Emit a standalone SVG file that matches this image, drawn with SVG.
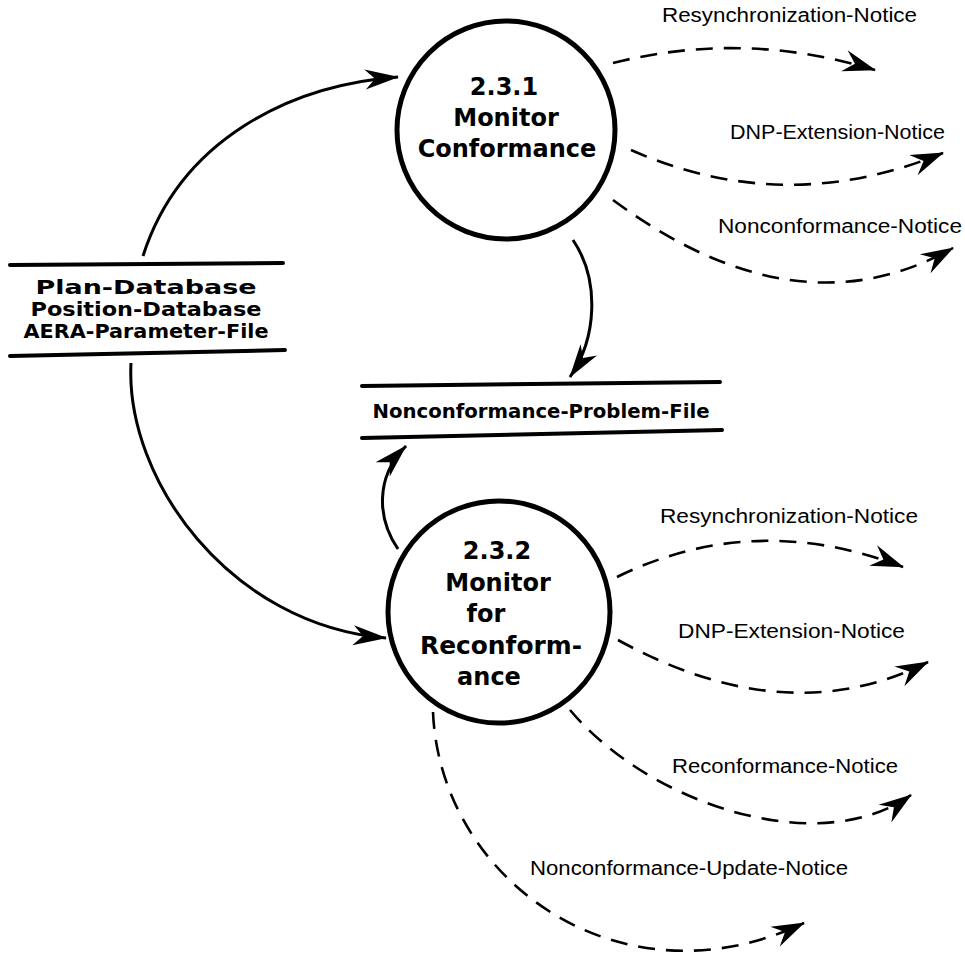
<svg xmlns="http://www.w3.org/2000/svg" width="965" height="964" viewBox="0 0 965 964">
  <style>
    .proc { fill: none; stroke: #000; stroke-width: 5; }
    .store { stroke: #000; stroke-width: 4; stroke-linecap: round; }
    .ptext { font-family: "DejaVu Sans", "Liberation Sans", sans-serif; font-weight: bold; font-size: 24px; fill: #000; text-anchor: middle; }
    .stext { font-family: "DejaVu Sans", "Liberation Sans", sans-serif; font-weight: bold; font-size: 19px; fill: #000; text-anchor: middle; }
    .flow { fill: none; stroke: #000; stroke-width: 3; }
    .dflow { fill: none; stroke: #000; stroke-width: 2.6; stroke-dasharray: 17 11; }
    .label { font-family: "Liberation Sans", Arial, sans-serif; font-size: 20px; fill: #000; }
  </style>
  <defs>
    <marker id="head" viewBox="-36 -12 38 24" refX="0" refY="0" markerWidth="38" markerHeight="24" orient="auto" markerUnits="userSpaceOnUse">
      <path d="M1,0 L-33,-10 L-23,0 L-33,10 Z" fill="#000"/>
    </marker>
    <marker id="dhead" viewBox="-36 -12 38 24" refX="0" refY="0" markerWidth="38" markerHeight="24" orient="auto" markerUnits="userSpaceOnUse">
      <path d="M1,0 L-32,-11 L-21,0 L-32,11 Z" fill="#000"/>
    </marker>
  </defs>

  <!-- process 2.3.1 -->
  <g id="p231">
    <circle class="proc" cx="506" cy="130" r="109"/>
    <text class="ptext" x="504" y="95">2.3.1</text>
    <text class="ptext" x="506" y="126">Monitor</text>
    <text class="ptext" x="507" y="157">Conformance</text>
  </g>

  <!-- process 2.3.2 -->
  <g id="p232">
    <circle class="proc" cx="499" cy="612" r="111"/>
    <text class="ptext" x="497" y="559">2.3.2</text>
    <text class="ptext" x="498" y="591">Monitor</text>
    <text class="ptext" x="486" y="622">for</text>
    <text class="ptext" x="501" y="654" textLength="162" lengthAdjust="spacingAndGlyphs">Reconform-</text>
    <text class="ptext" x="489" y="685">ance</text>
  </g>

  <!-- data store: plan / position / parameters -->
  <g id="store-plan">
    <line class="store" x1="10" y1="265" x2="283" y2="263"/>
    <line class="store" x1="10" y1="356" x2="285" y2="350"/>
    <text class="stext" x="146" y="294" textLength="221" lengthAdjust="spacingAndGlyphs">Plan-Database</text>
    <text class="stext" x="146" y="316" textLength="231" lengthAdjust="spacingAndGlyphs">Position-Database</text>
    <text class="stext" x="146" y="338" textLength="245" lengthAdjust="spacingAndGlyphs">AERA-Parameter-File</text>
  </g>

  <!-- data store: nonconformance problems -->
  <g id="store-ncp">
    <line class="store" x1="362" y1="386" x2="720" y2="382"/>
    <line class="store" x1="362" y1="438" x2="722" y2="430"/>
    <text class="stext" x="541" y="418" textLength="337" lengthAdjust="spacingAndGlyphs">Nonconformance-Problem-File</text>
  </g>

  <!-- data flows -->
  <g id="flows">
    <path class="flow" d="M143,256 C180,140 290,85 398,77" marker-end="url(#head)"/>
    <path class="flow" d="M131,363 C125,480 230,625 386,638" marker-end="url(#head)"/>
    <path class="flow" d="M573,240 C600,280 597,338 570,377" marker-end="url(#head)"/>
    <path class="flow" d="M398,549 C378,520 374,478 406,446" marker-end="url(#head)"/>

    <path class="dflow" d="M613,63 Q744,30 875,70" marker-end="url(#dhead)"/>
    <path class="dflow" d="M631,150 Q785,218 943,153" marker-end="url(#dhead)"/>
    <path class="dflow" d="M613,200 Q797,336 953,248" marker-end="url(#dhead)"/>

    <path class="dflow" d="M617,577 Q754,510 903,567" marker-end="url(#dhead)"/>
    <path class="dflow" d="M618,640 Q787,733 928,662" marker-end="url(#dhead)"/>
    <path class="dflow" d="M570,710 C650,805 820,860 911,795" marker-end="url(#dhead)"/>
    <path class="dflow" d="M433,712 C440,880 620,1010 804,923" marker-end="url(#dhead)"/>
  </g>

  <!-- flow labels -->
  <g id="labels">
    <text class="label" x="662" y="22" textLength="255" lengthAdjust="spacingAndGlyphs">Resynchronization-Notice</text>
    <text class="label" x="730" y="139" textLength="215" lengthAdjust="spacingAndGlyphs">DNP-Extension-Notice</text>
    <text class="label" x="718" y="233" textLength="244" lengthAdjust="spacingAndGlyphs">Nonconformance-Notice</text>
    <text class="label" x="660" y="523" textLength="258" lengthAdjust="spacingAndGlyphs">Resynchronization-Notice</text>
    <text class="label" x="678" y="638" textLength="227" lengthAdjust="spacingAndGlyphs">DNP-Extension-Notice</text>
    <text class="label" x="672" y="773" textLength="226" lengthAdjust="spacingAndGlyphs">Reconformance-Notice</text>
    <text class="label" x="530" y="875" textLength="318" lengthAdjust="spacingAndGlyphs">Nonconformance-Update-Notice</text>
  </g>
</svg>
